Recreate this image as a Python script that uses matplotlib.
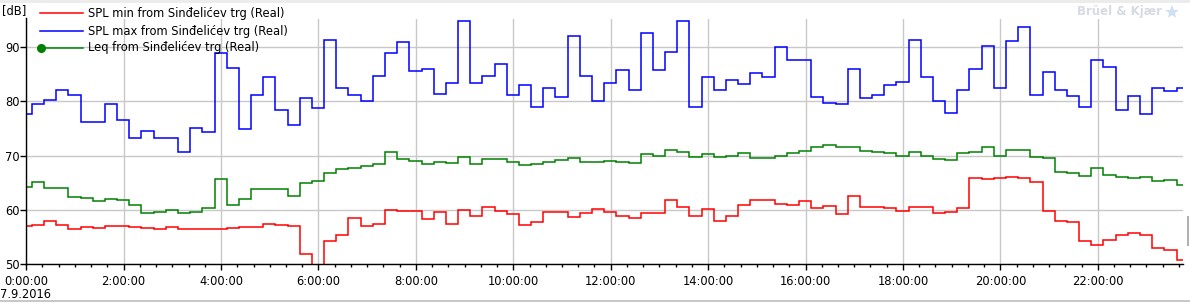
import matplotlib
matplotlib.use("Agg")
import matplotlib.pyplot as plt
import numpy as np
from matplotlib.lines import Line2D
from matplotlib.patches import Rectangle
from matplotlib.ticker import MultipleLocator, FixedLocator, FuncFormatter

# ---- data ----
# bin edges in minutes after 0:00 (first/last bins are partial)
first_edge_min = 7
interval_min = 15
n_full = 95
end_min = 1425
edges_min = [0] + [first_edge_min + interval_min * k for k in range(n_full)] + [end_min]

spl_min = [57.05, 57.2, 57.9, 57.2, 56.4, 56.9, 56.6, 57.0, 57.0, 56.8, 56.6, 56.4, 56.9, 56.4, 56.4, 56.4,
           56.4, 56.7, 56.8, 56.8, 57.4, 57.2, 57.0, 51.9, 47.0, 54.3, 55.4, 58.5, 57.0, 57.4, 59.9, 59.75,
           59.75, 58.3, 59.6, 57.5, 59.9, 58.8, 60.5, 59.75, 59.2, 57.2, 57.7, 59.6, 59.6, 58.7, 59.4, 60.1,
           59.6, 58.8, 58.5, 59.4, 59.4, 61.8, 60.5, 58.8, 60.1, 57.9, 58.8, 60.85, 61.8, 61.8, 61.0, 60.85,
           61.6, 60.3, 60.7, 59.2, 62.5, 60.5, 60.5, 60.3, 59.75, 60.5, 60.5, 59.4, 59.6, 60.3, 65.8, 65.6,
           65.8, 66.0, 65.8, 65.1, 59.75, 57.9, 57.7, 54.2, 53.5, 54.4, 55.4, 55.7, 55.3, 52.95, 52.6, 50.75]

spl_max = [77.6, 79.4, 80.3, 82.0, 81.1, 76.1, 76.1, 79.4, 76.5, 73.2, 74.6, 73.3, 73.2, 70.6, 75.0, 74.3,
           88.8, 86.1, 74.8, 81.1, 84.5, 78.3, 75.6, 80.6, 78.7, 91.3, 82.4, 81.2, 80.1, 84.7, 88.8, 90.8,
           85.5, 85.9, 81.4, 83.3, 94.65, 83.3, 84.7, 86.9, 81.2, 82.9, 79.0, 82.5, 80.7, 91.9, 84.7, 80.0,
           83.4, 85.65, 82.0, 92.6, 85.65, 89.1, 94.65, 78.85, 84.4, 82.0, 83.8, 83.1, 85.1, 84.4, 89.9, 87.5,
           87.5, 80.7, 79.6, 79.4, 86.0, 80.5, 81.1, 82.9, 83.6, 91.2, 84.5, 80.0, 77.9, 82.0, 85.9, 90.2,
           82.4, 91.0, 93.55, 81.1, 85.3, 82.0, 80.9, 78.85, 87.5, 86.2, 78.3, 80.9, 77.6, 82.5, 81.8, 82.5]

leq = [64.2, 65.1, 64.0, 64.0, 62.4, 62.1, 61.6, 62.0, 61.8, 60.9, 59.4, 59.6, 59.9, 59.4, 59.6, 60.4,
       65.6, 60.9, 62.0, 63.8, 63.8, 63.8, 62.5, 65.0, 65.4, 66.7, 67.5, 67.7, 68.1, 68.4, 70.6, 69.4,
       69.0, 68.4, 68.75, 68.6, 69.7, 68.4, 69.3, 69.3, 68.9, 68.2, 68.4, 68.9, 69.2, 69.5, 68.9, 68.75,
       69.0, 68.8, 68.6, 70.3, 69.85, 71.1, 70.65, 69.7, 70.2, 69.7, 69.85, 70.4, 69.5, 69.5, 69.85, 70.4,
       70.8, 71.5, 71.9, 71.5, 71.5, 70.8, 70.6, 70.4, 70.0, 70.6, 70.0, 69.3, 69.1, 70.4, 70.6, 71.5,
       70.0, 70.95, 71.1, 69.7, 69.5, 67.0, 66.7, 66.2, 67.65, 66.4, 66.0, 65.8, 66.0, 65.3, 65.5, 64.5]

series_labels = ["SPL min from Sinđelićev trg (Real)",
                 "SPL max from Sinđelićev trg (Real)",
                 "Leq from Sinđelićev trg (Real)"]
major_hours = list(range(0, 24, 2))
date_label = "7.9.2016"
y_ticks = [50, 60, 70, 80, 90]

# ---- figure ----
W, H = 1190, 303
fig = plt.figure(figsize=(W / 100, H / 100), dpi=100)
plt.rcParams['font.family'] = ['DejaVu Sans']
FS = 8.3

def fx(px):
    return px / W

def fy(py):
    return 1 - py / H

ax_left, ax_right, ax_top, ax_bottom = 26.2, 1183.0, 18.5, 264.3
ax = fig.add_axes([fx(ax_left), fy(ax_bottom), (ax_right - ax_left) / W, (ax_bottom - ax_top) / H])

edges_h = np.array(edges_min) / 60.0
c_red, c_blue, c_green = '#ff0000', '#0000ff', '#008000'
ax.stairs(spl_min, edges_h, color=c_red, lw=1.1, baseline=None)
ax.stairs(spl_max, edges_h, color=c_blue, lw=1.1, baseline=None)
ax.stairs(leq, edges_h, color=c_green, lw=1.1, baseline=None)

ax.set_xlim(0, end_min / 60.0)
ax.set_ylim(50, 95.2)

ax.xaxis.set_major_locator(FixedLocator(major_hours))
ax.xaxis.set_minor_locator(MultipleLocator(1 / 3))
ax.xaxis.set_major_formatter(FuncFormatter(lambda v, p: f"{int(round(v))}:00:00"))
ax.yaxis.set_major_locator(FixedLocator(y_ticks))

ax.grid(True, which='major', color='#c8c8c8', lw=1.0)
ax.set_axisbelow(True)
for s in ['top', 'right']:
    ax.spines[s].set_visible(False)
for s in ['left', 'bottom']:
    ax.spines[s].set_color('black')
    ax.spines[s].set_linewidth(1.0)

ax.tick_params(axis='x', which='major', length=4, width=1, pad=3.5, labelsize=FS, colors='black')
ax.tick_params(axis='x', which='minor', length=2.5, width=1, colors='black')
ax.tick_params(axis='y', which='major', length=4, width=1, pad=1, labelsize=FS, colors='black')

# unit label and date
fig.text(fx(2), fy(11), "[dB]", fontsize=FS, va='center', ha='left')
fig.text(fx(0), fy(294), date_label, fontsize=FS, va='center', ha='left')

# manual legend
leg_rows = [13, 31, 48]
colors = [c_red, c_blue, c_green]
for i, (lab, col) in enumerate(zip(series_labels, colors)):
    y = fy(leg_rows[i])
    fig.add_artist(Line2D([fx(40), fx(83)], [y, y], color=col, lw=1.1, transform=fig.transFigure))
    fig.text(fx(88), y, lab, fontsize=FS, va='center', ha='left')
fig.add_artist(Line2D([fx(41)], [fy(leg_rows[2])], color=c_green, marker='o', ms=5.5,
                      transform=fig.transFigure))

# watermark
fig.text(fx(1077), fy(12), "Brüel & Kjær", fontsize=8.5, fontweight='bold', color='#d6dae2',
         va='center', ha='left')
fig.add_artist(Line2D([fx(1172)], [fy(12)], color='#cfe0f5', marker='*', ms=10, mew=0,
                      transform=fig.transFigure))

# frame decorations
fig.add_artist(Rectangle((0, fy(3)), 1, 3 / H, transform=fig.transFigure, color='#ececec', lw=0))
fig.add_artist(Rectangle((0, fy(302)), 1, 2 / H, transform=fig.transFigure, color='#c8c8c8', lw=0))
fig.add_artist(Rectangle((fx(1187), fy(246)), 2 / W, 30 / H, transform=fig.transFigure, color='#b0b0b0', lw=0))

fig.savefig("out.png", dpi=100)
